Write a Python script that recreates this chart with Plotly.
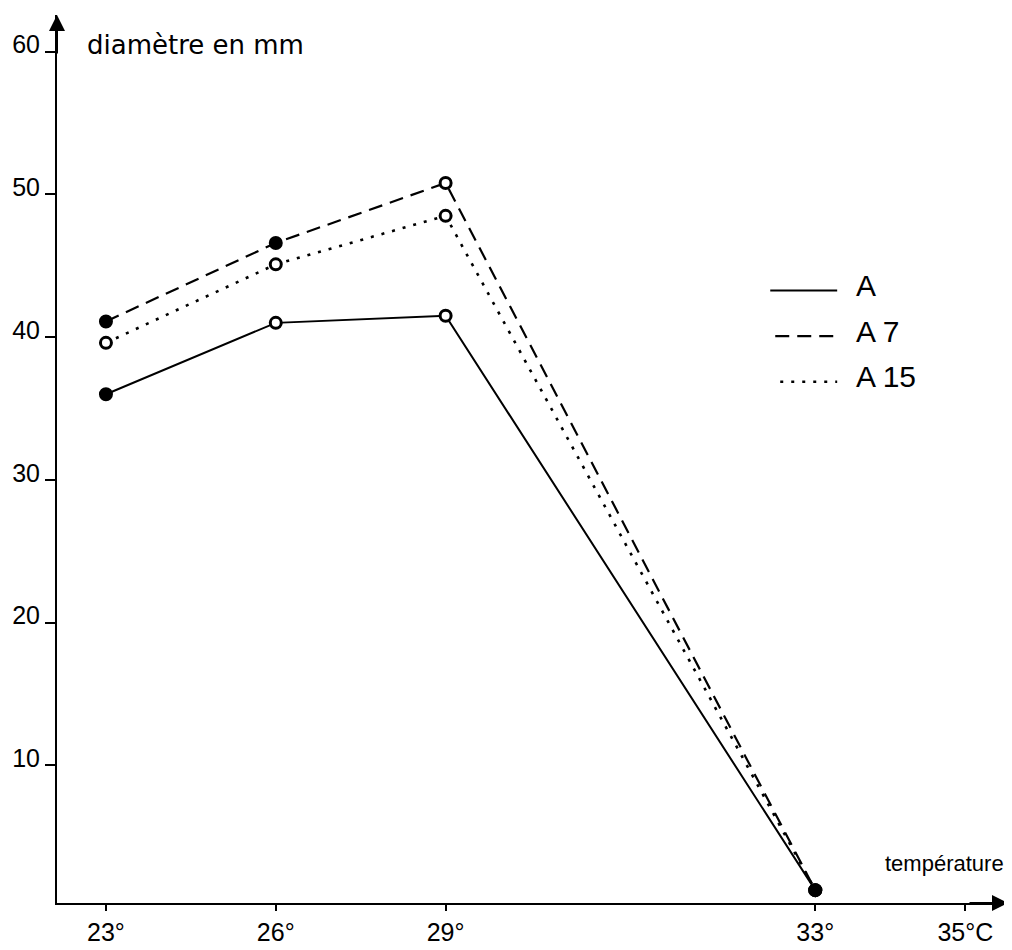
import plotly.graph_objects as go

# ---- data ----
temperatures = ["23°", "26°", "29°", "33°"]
tick_labels = ["23°", "26°", "29°", "33°", "35°C"]
# horizontal placement of each temperature on the (non-linear) drawn axis
tick_positions = [0, 3, 6, 12.53, 15.18]

diam_A = [36.0, 41.0, 41.5, 1.25]
diam_A7 = [41.1, 46.6, 50.8, 1.25]
diam_A15 = [39.6, 45.1, 48.5, 1.25]

fill_A = ["black", "white", "white", "black"]
fill_A7 = ["black", "black", "white", "black"]
fill_A15 = ["white", "white", "white", "black"]

y_ticks = [10, 20, 30, 40, 50, 60]

pos_of = dict(zip(tick_labels, tick_positions))
xs = [pos_of[t] for t in temperatures]

FONT = "Liberation Sans, Arial, sans-serif"

fig = go.Figure()

def add_series(name, ys, fills, dash, width):
    fig.add_trace(go.Scatter(
        x=xs, y=ys, name=name, mode="lines+markers",
        line=dict(color="black", width=width, dash=dash),
        marker=dict(symbol="circle", size=11, color=fills,
                    line=dict(color="black", width=3)),
        showlegend=False,
    ))

add_series("A", diam_A, fill_A, "solid", 2)
add_series("A 7", diam_A7, fill_A7, "14px,8px", 2.2)
add_series("A 15", diam_A15, fill_A15, "3px,8px", 2.6)

# ---- layout (page body has an 8px margin) ----
OFF = 8
W, H = 1012 - OFF, 950 - OFF
S_LEFT, S_RIGHT, S_TOP, S_BOTTOM = 56, 1008, 15, 911  # plot box on screen
L, R, T, B = S_LEFT - OFF, W - (S_RIGHT - OFF), S_TOP - OFF, H - (S_BOTTOM - OFF)
pw, ph = S_RIGHT - S_LEFT, S_BOTTOM - S_TOP

def px(xp):
    return (xp - S_LEFT) / pw

def py(yp):
    return (S_BOTTOM - yp) / ph

shapes = []
annotations = []

# custom legend
legend_items = [
    ("A", "solid", 2, 293, 770),
    ("A 7", "14px,8px", 2.2, 339, 775),
    ("A 15", "3px,8px", 2.6, 385, 780),
]
for label, dash, w, yy, x0 in legend_items:
    shapes.append(dict(type="line", xref="paper", yref="paper",
                       x0=px(x0), x1=px(837), y0=py(yy), y1=py(yy),
                       line=dict(color="black", width=w, dash=dash)))
    annotations.append(dict(xref="paper", yref="paper", x=px(854), y=py(yy - 5),
                            text=label, showarrow=False, xanchor="left", yanchor="middle",
                            font=dict(family=FONT, size=30, color="black")))

# axis titles
annotations.append(dict(xref="paper", yref="paper", x=px(84), y=py(45),
                        text="diamètre en mm", showarrow=False, xanchor="left", yanchor="middle",
                        font=dict(family="DejaVu Sans, sans-serif", size=26, color="black")))
annotations.append(dict(xref="paper", yref="paper", x=px(1006), y=py(871),
                        text="température", showarrow=False, xanchor="right", yanchor="middle",
                        font=dict(family=FONT, size=22, color="black")))

# axis arrows
annotations.append(dict(xref="paper", yref="paper", x=0, y=1, ax=0, ay=40,
                        showarrow=True, arrowhead=2, arrowsize=1.6, arrowwidth=2,
                        arrowcolor="black", text=""))
annotations.append(dict(xref="paper", yref="paper", x=1, y=0, ax=-40, ay=0,
                        showarrow=True, arrowhead=2, arrowsize=1.6, arrowwidth=2,
                        arrowcolor="black", text=""))

x_left = -(105 - S_LEFT) / 56.67
x_right = x_left + pw / 56.67
y_bottom = 0.35
y_top = y_bottom + ph / 14.4

fig.update_layout(
    width=W, height=H,
    margin=dict(l=L, r=R, t=T, b=B, pad=0),
    plot_bgcolor="white", paper_bgcolor="white",
    shapes=shapes, annotations=annotations,
    xaxis=dict(range=[x_left, x_right], tickmode="array",
               tickvals=tick_positions, ticktext=tick_labels,
               showline=True, linecolor="black", linewidth=2,
               ticks="outside", ticklen=6, tickwidth=2, tickcolor="black",
               showgrid=False, zeroline=False, ticklabelstandoff=0,
               tickfont=dict(family=FONT, size=25, color="black")),
    yaxis=dict(range=[y_bottom, y_top], tickmode="array",
               tickvals=y_ticks, ticktext=[str(v) for v in y_ticks],
               showline=True, linecolor="black", linewidth=2,
               ticks="outside", ticklen=10, tickwidth=2, tickcolor="black",
               showgrid=False, zeroline=False, ticklabelshift=-7,
               tickfont=dict(family=FONT, size=25, color="black")),
)

fig.write_html("out.html")
